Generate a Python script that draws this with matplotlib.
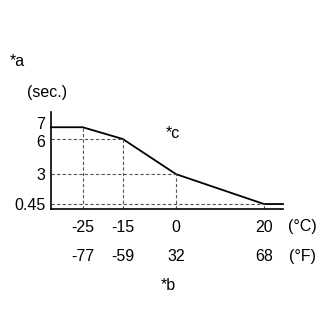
import matplotlib
matplotlib.use("Agg")
import numpy as np
import matplotlib.pyplot as plt
import matplotlib.transforms as mtransforms

plt.rcParams['font.family'] = ['Liberation Sans', 'DejaVu Sans']

temps_c = [-25, -15, 0, 20]
temps_f = [-77, -59, 32, 68]
seconds = [7, 6, 3, 0.45]
c_labels = ['-25', '-15', '0', '20']
f_labels = ['-77', '-59', '32', '68']
y_labels = ['7', '6', '3', '0.45']

# schematic (non-uniform) temperature axis: anchor temperatures -> relative axis positions
scale_t = [-25.0, -15.0, 0.0, 20.0]
scale_p = [82.7, 122.7, 176.0, 264.0]


def _pw(x, xp, fp):
    x = np.asarray(x, float)
    y = np.interp(x, xp, fp)
    s0 = (fp[1] - fp[0]) / (xp[1] - xp[0])
    s1 = (fp[-1] - fp[-2]) / (xp[-1] - xp[-2])
    y = np.where(x < xp[0], fp[0] + (x - xp[0]) * s0, y)
    y = np.where(x > xp[-1], fp[-1] + (x - xp[-1]) * s1, y)
    return y


def fwd(x):
    return _pw(x, scale_t, scale_p)


def inv(p):
    return _pw(p, scale_p, scale_t)


W = H = 333
fig = plt.figure(figsize=(W / 100, H / 100), dpi=100)
ax = fig.add_axes([51 / W, 1 - 208.5 / H, (283 - 51) / W, (208.5 - 112) / H])

ax.set_xscale('function', functions=(fwd, inv))
xmin, xmax = float(inv(51.0)), float(inv(283.0))
ymin = 0.07
ax.set_xlim(xmin, xmax)
ax.set_ylim(ymin, 8.3)

# main curve, flat before first and after last point
xs = [xmin] + temps_c + [xmax]
ys = [seconds[0]] + seconds + [seconds[-1]]
ax.plot(xs, ys, color='black', lw=1.3, solid_joinstyle='miter', clip_on=False)

# dashed guide lines
dash = dict(color='#555555', lw=0.8, linestyle=(0, (3, 2)))
for x, y in zip(temps_c, seconds):
    ax.plot([x, x], [ymin, y], **dash)
    if y != seconds[0]:
        ax.plot([xmin, x], [y, y], **dash)

for s in ['top', 'right']:
    ax.spines[s].set_visible(False)
for s in ['left', 'bottom']:
    ax.spines[s].set_linewidth(1.2)

fs = 11.5
ax.set_yticks(seconds)
ax.set_yticklabels(y_labels)
ax.set_xticks(temps_c)
ax.set_xticklabels(c_labels)
ax.xaxis.set_minor_locator(matplotlib.ticker.NullLocator())
ax.tick_params(axis='y', length=0, pad=4, labelsize=fs)
ax.tick_params(axis='x', length=0, pad=8, labelsize=fs)

# nudge the crowded 7 / 6 labels apart as in the reference
ylabs = ax.get_yticklabels()
ylabs[0].set_transform(ylabs[0].get_transform() + mtransforms.ScaledTranslation(0, 3 / 72, fig.dpi_scale_trans))
ylabs[1].set_transform(ylabs[1].get_transform() + mtransforms.ScaledTranslation(0, -1.5 / 72, fig.dpi_scale_trans))

trans = ax.get_xaxis_transform()
for xc, lab in zip(temps_c, f_labels):
    ax.text(xc, -0.50, lab, transform=trans, ha='center', va='center', fontsize=fs)

fig.text(302 / W, 1 - 227 / H, '(°C)', ha='center', va='center', fontsize=fs)
fig.text(302 / W, 1 - 257 / H, '(°F)', ha='center', va='center', fontsize=fs)
fig.text(47 / W, 1 - 92 / H, '(sec.)', ha='center', va='center', fontsize=fs)
fig.text(10 / W, 1 - 62 / H, '*a', ha='left', va='center', fontsize=fs)
fig.text(168 / W, 1 - 285 / H, '*b', ha='center', va='center', fontsize=fs)
fig.text(173 / W, 1 - 133 / H, '*c', ha='center', va='center', fontsize=fs)

fig.savefig('out.png', dpi=100)
